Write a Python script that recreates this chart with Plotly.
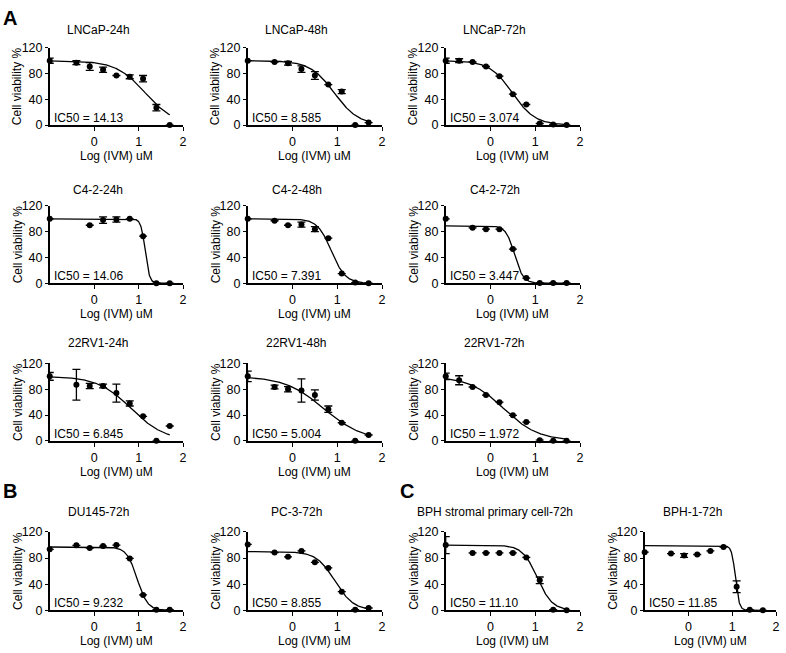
import numpy as np
import plotly.graph_objects as go

W, H = 786, 653
FONT = "Liberation Sans, Arial, Helvetica, sans-serif"

# ---------------- data (log10 concentration in uM, % viability) ----------------
x9 = [-1, -0.4, -0.1, 0.2, 0.5, 0.8, 1.1, 1.4, 1.7]
x10 = [-1, -0.7, -0.4, -0.1, 0.2, 0.5, 0.8, 1.1, 1.4, 1.7]
x_c42_24 = [-1, -0.1, 0.2, 0.5, 0.8, 1.1, 1.4, 1.7]

titles = ["LNCaP-24h", "LNCaP-48h", "LNCaP-72h",
          "C4-2-24h", "C4-2-48h", "C4-2-72h",
          "22RV1-24h", "22RV1-48h", "22RV1-72h",
          "DU145-72h", "PC-3-72h", "BPH stromal primary cell-72h", "BPH-1-72h"]

lncap24_y = [100, 97, 91, 86, 77, 75, 72, 27, 0]
lncap24_e = [4, 3, 6, 4, 0, 3, 5, 5, 0]
lncap48_y = [100, 98, 96, 87, 77, 63, 52, 0, 4]
lncap48_e = [0, 0, 3, 5, 6, 0, 3, 0, 0]
lncap72_y = [100, 100, 98, 91, 76, 48, 32, 2.5, 1, 0]
lncap72_e = [4, 3, 0, 0, 0, 0, 0, 0, 0, 0]

c42_24_y = [100, 90, 98, 99, 100, 73, 0, 0]
c42_24_e = [0, 0, 5, 4, 0, 0, 0, 0]
c42_48_y = [100, 97, 90, 91, 84, 70, 15, 1, 0]
c42_48_e = [0, 0, 0, 4, 4, 0, 0, 0, 0]
c42_72_y = [100, 86, 84, 84, 53, 8, 0.5, 0.5, 0.5]
c42_72_e = [0, 0, 0, 0, 0, 0, 0, 0, 0]

rv24_y = [100, 87, 85, 85, 74, 58, 38, 0, 23]
rv24_e = [6, 24, 4, 3, 14, 4, 0, 0, 0]
rv48_y = [100, 83.5, 80, 78, 71, 49, 28, 0, 9]
rv48_e = [8, 3, 4, 18, 8, 5, 0, 0, 0]
rv72_y = [100, 94, 83.5, 71, 60, 39.5, 29, 1, 0, 0]
rv72_e = [5, 7, 0, 0, 0, 0, 0, 0, 0, 0]

du145_y = [93.5, 99.5, 95.5, 98.5, 100, 79.5, 23.5, 1, 1]
du145_e = [0, 0, 0, 0, 0, 0, 0, 0, 0]
pc3_y = [101, 88.5, 82, 91, 73.5, 65, 28.5, 1, 3.5]
pc3_e = [0, 0, 0, 0, 0, 0, 0, 0, 0]
bphs_y = [100, 88, 88, 88, 88, 81, 46, 1, 0]
bphs_e = [13, 0, 0, 0, 0, 0, 5, 0, 0]
bph1_y = [89, 87, 84, 85.5, 91, 97, 36, 1, 0]
bph1_e = [0, 0, 3, 0, 0, 0, 9, 0, 0]

# fitted 4-parameter logistic curves (IC50 values printed on the chart)
ic50 = [14.13, 8.585, 3.074, 14.06, 7.391, 3.447, 6.845, 5.004, 1.972,
        9.232, 8.855, 11.10, 11.85]
ic50_labels = ["14.13", "8.585", "3.074", "14.06", "7.391", "3.447", "6.845", "5.004",
               "1.972", "9.232", "8.855", "11.10", "11.85"]
fit_top = [100, 100, 100, 100, 100, 89, 100, 100, 100, 97, 90, 100, 99]
fit_bottom = [0, 0, 0, 0, 0, 0, 0, 0, 0, 0, 0, 0, 0]
fit_hill = [1.31, 1.6, 1.7, 9, 2.8, 4.5, 1.15, 1.0, 1.12, 3.7, 2.1, 2.6, 10]

x_ticks = [0, 1, 2]
y_ticks = [0, 40, 80, 120]

xs_data = [x9, x9, x10, x_c42_24, x9, x9, x9, x9, x10, x9, x9, x9, x9]
ys_data = [lncap24_y, lncap48_y, lncap72_y, c42_24_y, c42_48_y, c42_72_y,
           rv24_y, rv48_y, rv72_y, du145_y, pc3_y, bphs_y, bph1_y]
es_data = [lncap24_e, lncap48_e, lncap72_e, c42_24_e, c42_48_e, c42_72_e,
           rv24_e, rv48_e, rv72_e, du145_e, pc3_e, bphs_e, bph1_e]

# ---------------- layout geometry (pixels) ----------------
cols_px = [(50, 184), (249, 384), (448, 583), (648, 780)]
rows_px = [(41.7, 120.7), (203.3, 282.3), (364.3, 443.3), (536.5, 616.5)]
title_y_px = [24, 186.7, 343.3, 516.5]
grid = [(0, 0), (0, 1), (0, 2), (1, 0), (1, 1), (1, 2), (2, 0), (2, 1), (2, 2),
        (3, 0), (3, 1), (3, 2), (3, 3)]

fig = go.Figure()
layout = dict(width=W, height=H, margin=dict(l=0, r=0, t=0, b=0),
              paper_bgcolor="white", plot_bgcolor="white", showlegend=False,
              font=dict(family=FONT, size=12, color="black"))
annotations = []

for i, (r, c) in enumerate(grid):
    n = i + 1
    xa = "x" if n == 1 else f"x{n}"
    ya = "y" if n == 1 else f"y{n}"
    x0, x1 = cols_px[c]
    y0, y1 = rows_px[r]
    layout["xaxis" if n == 1 else f"xaxis{n}"] = dict(
        domain=[x0 / W, x1 / W], anchor=ya, range=[-1, 2],
        tickvals=x_ticks, ticks="outside", ticklen=4, tickwidth=1.3, tickcolor="black",
        showline=True, linecolor="black", linewidth=1.5, showgrid=False, zeroline=False,
        tickfont=dict(size=12.5, family=FONT, color="black"), fixedrange=True)
    layout["yaxis" if n == 1 else f"yaxis{n}"] = dict(
        domain=[1 - y1 / H, 1 - y0 / H], anchor=xa, range=[0, 120],
        tickvals=y_ticks, ticks="outside", ticklen=3, tickwidth=1.3, tickcolor="black",
        showline=True, linecolor="black", linewidth=1.5, showgrid=False, zeroline=False,
        tickfont=dict(size=12.5, family=FONT, color="black"), fixedrange=True)

    # fitted curve
    xc = np.linspace(-1, 1.7, 300)
    lg = np.log10(ic50[i])
    yc = fit_bottom[i] + (fit_top[i] - fit_bottom[i]) / (1 + 10 ** ((xc - lg) * fit_hill[i]))
    fig.add_trace(go.Scatter(x=xc, y=yc, mode="lines", xaxis=xa, yaxis=ya,
                             line=dict(color="black", width=1.3), hoverinfo="skip"))
    # data points
    fig.add_trace(go.Scatter(x=xs_data[i], y=ys_data[i], mode="markers", xaxis=xa, yaxis=ya,
                             marker=dict(color="black", size=6),
                             error_y=dict(type="data", array=es_data[i], visible=True,
                                          color="black", thickness=1.3, width=4),
                             cliponaxis=False))

    xd = f"{xa} domain"
    yd = f"{ya} domain"
    # panel title
    annotations.append(dict(text=titles[i], xref="paper", yref="paper",
                            x=((x0 + x1) / 2 - 18) / W, y=1 - title_y_px[r] / H,
                            xanchor="center", yanchor="middle", showarrow=False,
                            font=dict(size=12, family=FONT)))
    # IC50 text
    annotations.append(dict(text=f"IC50 = {ic50_labels[i]}", xref=xd, yref=yd, x=0, y=0,
                            xanchor="left", yanchor="bottom", xshift=2, yshift=-2,
                            showarrow=False, font=dict(size=12, family=FONT)))
    # axis titles
    annotations.append(dict(text="Cell viability %", xref=xd, yref=yd, x=0, y=0.5,
                            xshift=-32, textangle=-90, xanchor="center", yanchor="middle",
                            showarrow=False, font=dict(size=12, family=FONT)))
    annotations.append(dict(text="Log (IVM) uM", xref=xd, yref=yd, x=0.5, y=0,
                            yshift=-31, xanchor="center", yanchor="middle",
                            showarrow=False, font=dict(size=12, family=FONT)))

# panel letters
for letter, px, py in [("A", 1, 11), ("B", 1, 495), ("C", 400, 495)]:
    annotations.append(dict(text=f"<b>{letter}</b>", xref="paper", yref="paper",
                            x=px / W, y=1 - py / H, xanchor="left", yanchor="middle",
                            showarrow=False, font=dict(size=20, family=FONT)))

layout["annotations"] = annotations
fig.update_layout(**layout)
fig.write_html("out.html", config={"displayModeBar": False},
               post_script="document.body.style.margin='0';document.body.style.overflow='hidden';")
